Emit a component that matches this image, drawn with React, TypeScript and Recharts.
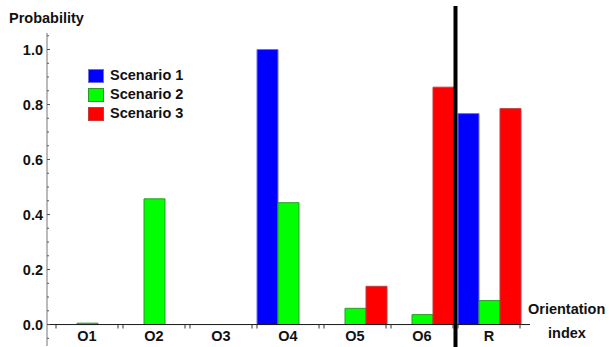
import React from 'react';
import { BarChart, Bar, XAxis, YAxis, ReferenceLine, Legend } from 'recharts';

// Orientation categories and the probability of each scenario
const categories = ['O1', 'O2', 'O3', 'O4', 'O5', 'O6', 'R'];
const scenario1 = [0, 0, 0, 1.0, 0, 0, 0.767];
const scenario2 = [0.005, 0.457, 0, 0.443, 0.059, 0.036, 0.087];
const scenario3 = [0, 0, 0, 0, 0.139, 0.863, 0.785];

// Labelled ticks and the full set of (minor + major) tick positions
const majorTicks = [0, 0.2, 0.4, 0.6, 0.8, 1.0];
const yTicks = [
  -0.05, 0, 0.05, 0.1, 0.15, 0.2, 0.25, 0.3, 0.35, 0.4, 0.45, 0.5, 0.55,
  0.6, 0.65, 0.7, 0.75, 0.8, 0.85, 0.9, 0.95, 1.0, 1.05,
];

const series = [
  { key: 's1', name: 'Scenario 1', fill: '#0000ff', stroke: '#7070dd' },
  { key: 's2', name: 'Scenario 2', fill: '#00ff00', stroke: '#2b9a2b' },
  { key: 's3', name: 'Scenario 3', fill: '#ff0000', stroke: '#c23a3a' },
];

const data = categories.map((name, i) => ({
  name,
  s1: scenario1[i],
  s2: scenario2[i],
  s3: scenario3[i],
}));

const FONT = '"Liberation Sans", Arial, Helvetica, sans-serif';
const FONT_SIZE = 14.5;

// distance from the bottom of the plot to the zero baseline
const BASELINE_GAP = 21.5;
// half the width of a bar group
const GROUP_HALF = 31;

const YTick = (props: any) => {
  const { x, y, payload } = props;
  const v = payload.value as number;
  const major = majorTicks.some((m) => Math.abs(m - v) < 1e-9);
  return (
    <g>
      <line x1={x} x2={x + (major ? 3 : 2)} y1={y} y2={y} stroke="#555" strokeWidth={1} />
      {major && (
        <text
          x={x - 4}
          y={y}
          textAnchor="end"
          dominantBaseline="central"
          fontFamily={FONT}
          fontWeight="bold"
          fontSize={FONT_SIZE}
          fill="#111"
        >
          {v.toFixed(1)}
        </text>
      )}
    </g>
  );
};

const XTick = (props: any) => {
  const { x, y, payload } = props;
  const base = y - BASELINE_GAP;
  return (
    <g>
      <line x1={x - GROUP_HALF} x2={x - GROUP_HALF} y1={base} y2={base + 4} stroke="#333" />
      <line x1={x + GROUP_HALF} x2={x + GROUP_HALF} y1={base} y2={base + 4} stroke="#333" />
      <text
        x={x}
        y={base + 11.5}
        textAnchor="middle"
        dominantBaseline="central"
        fontFamily={FONT}
        fontWeight="bold"
        fontSize={FONT_SIZE}
        fill="#111"
      >
        {payload.value}
      </text>
    </g>
  );
};

const LegendContent = () => (
  <div style={{ fontFamily: FONT, fontWeight: 'bold', fontSize: FONT_SIZE, color: '#111' }}>
    {series.map((s) => (
      <div key={s.key} style={{ display: 'flex', alignItems: 'center', height: 19 }}>
        <span
          style={{
            display: 'inline-block',
            width: 14,
            height: 12,
            background: s.fill,
            border: `1px solid ${s.stroke}`,
            marginRight: 6,
          }}
        />
        <span style={{ lineHeight: '19px', whiteSpace: 'nowrap' }}>{s.name}</span>
      </div>
    ))}
  </div>
);

const textStyle: React.CSSProperties = {
  position: 'absolute',
  fontFamily: FONT,
  fontWeight: 'bold',
  fontSize: FONT_SIZE,
  color: '#111',
  whiteSpace: 'nowrap',
  lineHeight: '17px',
};

export default function App() {
  return (
    <div style={{ position: 'absolute', left: 0, top: 0, width: 610, height: 347, background: '#fff' }}>
      <BarChart
        width={610}
        height={347}
        data={data}
        margin={{ top: 33, right: 80, bottom: 0, left: 0 }}
        barCategoryGap={2.5}
        barGap={0}
      >
        <XAxis
          dataKey="name"
          height={1}
          axisLine={false}
          tickLine={false}
          tickSize={0}
          tickMargin={0}
          interval={0}
          padding={{ left: 6.5, right: 7.5 }}
          tick={<XTick />}
        />
        <YAxis
          width={47}
          domain={[-0.078, 1.06]}
          allowDataOverflow
          ticks={yTicks}
          interval={0}
          tickLine={false}
          tickSize={0}
          tickMargin={0}
          axisLine={{ stroke: '#777', strokeWidth: 1 }}
          tick={<YTick />}
        />
        <ReferenceLine y={0} stroke="#1a1a1a" strokeWidth={1} />
        {series.map((s) => (
          <Bar
            key={s.key}
            dataKey={s.key}
            name={s.name}
            fill={s.fill}
            stroke={s.stroke}
            strokeWidth={1}
            isAnimationActive={false}
          />
        ))}
        <ReferenceLine
          segment={[
            { x: 'R', y: 1.158 },
            { x: 'R', y: -0.085 },
          ]}
          position="start"
          ifOverflow="visible"
          stroke="#000"
          strokeWidth={4}
        />
        <Legend
          layout="vertical"
          align="center"
          verticalAlign="middle"
          content={<LegendContent />}
          wrapperStyle={{ left: 88, top: 66, width: 'auto', height: 'auto' }}
        />
      </BarChart>
      <div style={{ ...textStyle, left: 9, top: 10 }}>Probability</div>
      <div style={{ ...textStyle, left: 528, top: 301 }}>Orientation</div>
      <div style={{ ...textStyle, left: 548, top: 325, width: 38, textAlign: 'center' }}>index</div>
    </div>
  );
}
